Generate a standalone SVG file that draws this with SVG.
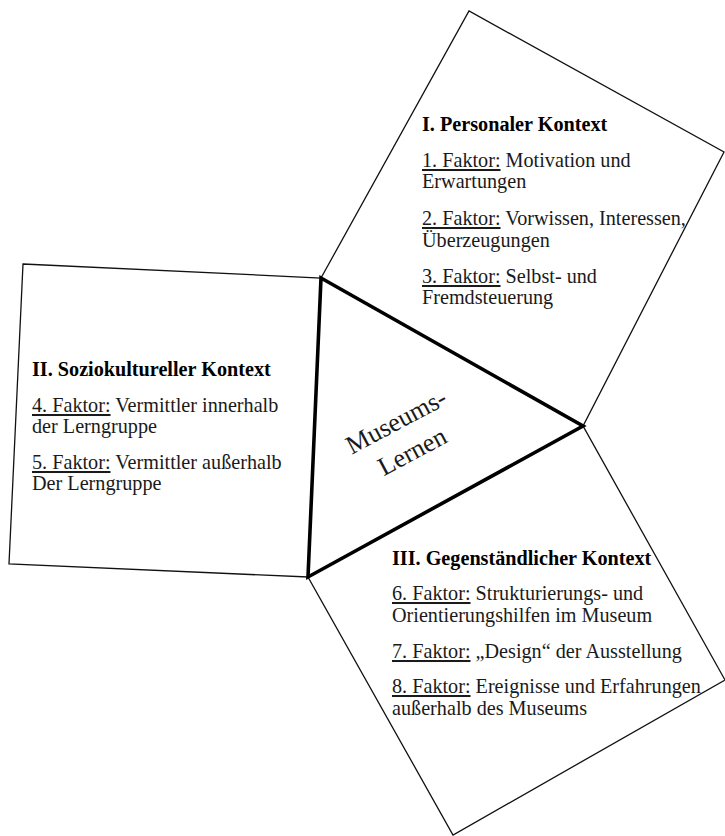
<svg xmlns="http://www.w3.org/2000/svg" width="725" height="836" viewBox="0 0 725 836">
<style>
.box{fill:#fff;stroke:#111;stroke-width:1.3;stroke-linejoin:miter}
.tri{fill:none;stroke:#000;stroke-width:3.6;stroke-linejoin:miter}
.t{font-family:"Liberation Serif","Times New Roman",serif;font-size:20.2px;fill:#1a1a1a}
.h{font-weight:bold;fill:#000}
.u{text-decoration:underline}
.c{font-family:"Liberation Serif","Times New Roman",serif;font-size:26px;fill:#1a1a1a;text-anchor:middle}
</style>
<rect width="725" height="836" fill="#fff"/>
<g id="personaler-kontext">
<polygon class="box" points="321,278 469,11 724,152 583,426"/>
<text class="t h" x="422" y="131">I. Personaler Kontext</text>
<text class="t" x="422" y="167"><tspan class="u">1. Faktor:</tspan> Motivation und</text>
<text class="t" x="422" y="188">Erwartungen</text>
<text class="t" x="422" y="225"><tspan class="u">2. Faktor:</tspan> Vorwissen, Interessen,</text>
<text class="t" x="422" y="247">Überzeugungen</text>
<text class="t" x="422" y="283"><tspan class="u">3. Faktor:</tspan> Selbst- und</text>
<text class="t" x="422" y="304">Fremdsteuerung</text>
</g>
<g id="soziokultureller-kontext">
<polygon class="box" points="23,264 321,278 308,577 9,564"/>
<text class="t h" x="32" y="376">II. Soziokultureller Kontext</text>
<text class="t" x="32" y="412"><tspan class="u">4. Faktor:</tspan> Vermittler innerhalb</text>
<text class="t" x="32" y="433">der Lerngruppe</text>
<text class="t" x="32" y="469"><tspan class="u">5. Faktor:</tspan> Vermittler außerhalb</text>
<text class="t" x="32" y="490">Der Lerngruppe</text>
</g>
<g id="gegenstaendlicher-kontext">
<polygon class="box" points="308,577 583,426 725,680 453,835"/>
<text class="t h" x="392" y="565">III. Gegenständlicher Kontext</text>
<text class="t" x="392" y="600"><tspan class="u">6. Faktor:</tspan> Strukturierungs- und</text>
<text class="t" x="392" y="622">Orientierungshilfen im Museum</text>
<text class="t" x="392" y="658"><tspan class="u">7. Faktor:</tspan> „Design“ der Ausstellung</text>
<text class="t" x="392" y="693"><tspan class="u">8. Faktor:</tspan> Ereignisse und Erfahrungen</text>
<text class="t" x="392" y="715">außerhalb des Museums</text>
</g>
<g id="museums-lernen">
<polygon class="tri" points="321,278 583,426 308,577"/>
<g transform="translate(404,436) rotate(-28)">
<text class="c" x="0" y="-8">Museums-</text>
<text class="c" x="0" y="26">Lernen</text>
</g>
</g>
</svg>
